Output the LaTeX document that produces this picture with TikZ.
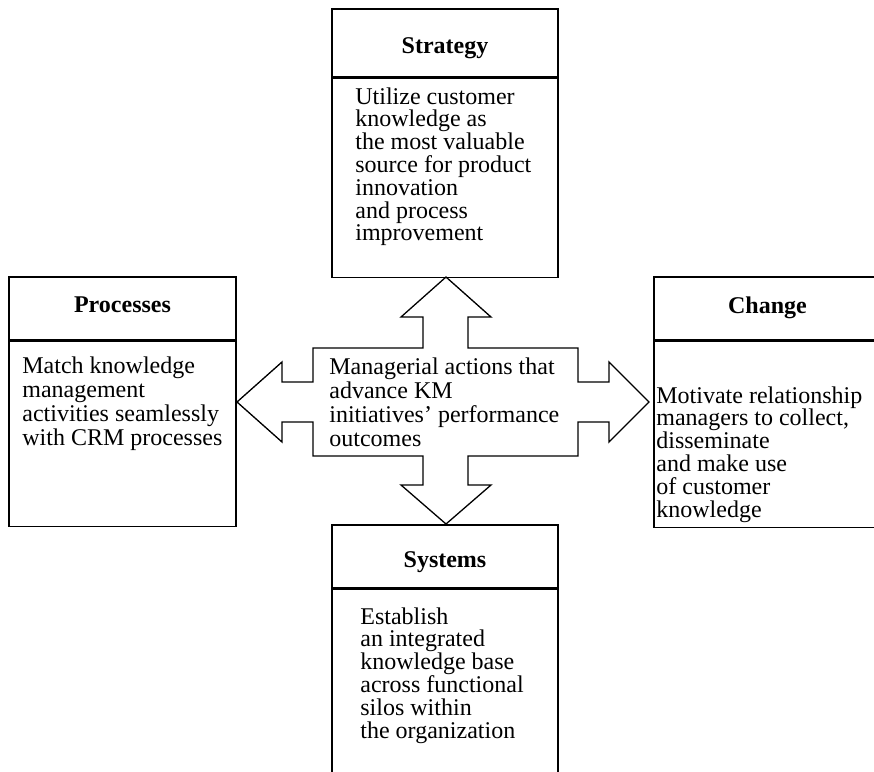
\documentclass[tikz,border=0pt]{standalone}
\usepackage{fontspec}
\setmainfont{Liberation Serif}
\usetikzlibrary{positioning}

\begin{document}
\begin{tikzpicture}[
  x=0.5pt, y=-0.5pt,
  titlebox/.style={draw, line width=0.7pt, minimum width=113pt, minimum height=31.5pt, inner sep=0pt,
    text height=12pt, text depth=#1, font=\fontsize{12}{14}\selectfont\bfseries},
  titlebox/.default=1.5pt,
  bodybox/.style={draw, line width=0.7pt, minimum width=113pt, inner sep=0pt},
  bodytext/.style={anchor=north west, align=left, inner sep=0pt, font=\fontsize{12}{11.4}\selectfont},
  cross/.style={draw, line width=0.65pt, line join=miter},
]
\useasboundingbox (0,0) rectangle (874,772);
\clip (0,0) rectangle (874,772);

% Top: Strategy
\node[titlebox, minimum height=34pt] (strat-head) at (445,43) {Strategy};
\node[bodybox, minimum height=99.5pt, below=0pt of strat-head] (strat-body) {};
\node[bodytext] (strat-text) at (355,87) {Utilize customer\\knowledge as\\the most valuable\\source for product\\innovation\\and process\\improvement};

% Left: Processes
\node[titlebox=8.2pt, minimum width=113.5pt] (proc-head) at (122.5,308.5) {Processes};
\node[bodybox, minimum width=113.5pt, minimum height=92.5pt, below=0pt of proc-head] (proc-body) {};
\node[bodytext, font=\fontsize{12}{12}\selectfont] (proc-text) at (22,356) {Match knowledge\\management\\activities seamlessly\\with CRM processes};

% Right: Change
\node[titlebox=7.5pt, minimum width=113.5pt] (chg-head) at (767.5,308.5) {Change};
\node[bodybox, minimum width=113.5pt, minimum height=93pt, below=0pt of chg-head] (chg-body) {};
\node[bodytext] (chg-text) at (656,386) {Motivate relationship\\managers to collect,\\disseminate\\and make use\\of customer\\knowledge};

% Bottom: Systems
\node[titlebox=1.2pt] (sys-head) at (445,556.5) {Systems};
\node[bodybox, minimum height=110pt, below=0pt of sys-head] (sys-body) {};
\node[bodytext] (sys-text) at (360,607) {Establish\\an integrated\\knowledge base\\across functional\\silos within\\the organization};

% Central four-way arrow
\draw[cross] (313,348) -- (423,348) -- (423,317) -- (401,317) -- (446,277) -- (491,317) -- (468,317) -- (468,348)
  -- (578,348) -- (578,382) -- (609,382) -- (609,362) -- (649,402) -- (609,442) -- (609,422) -- (578,422)
  -- (578,456) -- (468,456) -- (468,485) -- (491,485) -- (446,524) -- (401,485) -- (423,485) -- (423,456)
  -- (313,456) -- (313,422) -- (282,422) -- (282,442) -- (237,402) -- (282,362) -- (282,382) -- (313,382) -- cycle;
\node[bodytext, font=\fontsize{12}{12}\selectfont] (actions) at (329,357) {Managerial actions that\\advance KM\\initiatives' performance\\outcomes};

\end{tikzpicture}
\end{document}
